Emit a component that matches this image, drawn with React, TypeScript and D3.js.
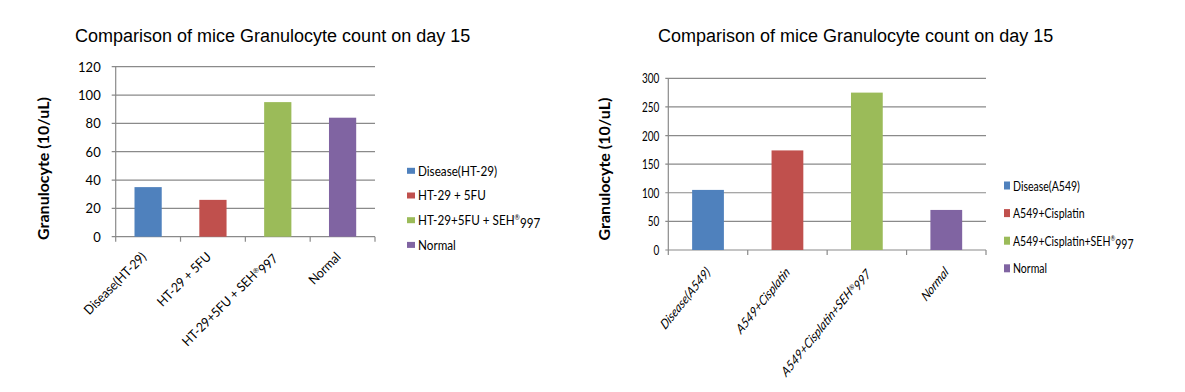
import React from "react";
import * as d3 from "d3";

const TITLE = "Comparison of mice Granulocyte count on day 15";
const Y_TITLE = "Granulocyte (10/uL)";
const COLORS = ["#4f81bd", "#c0504d", "#9bbb59", "#8064a2"];

const leftCategories = ["Disease(HT-29)", "HT-29 + 5FU", "HT-29+5FU + SEH®997", "Normal"];
const leftValues = [35, 26, 95, 84];
const leftTicks = [0, 20, 40, 60, 80, 100, 120];

const rightCategories = ["Disease(A549)", "A549+Cisplatin", "A549+Cisplatin+SEH®997", "Normal"];
const rightValues = [105, 174, 275, 70];
const rightTicks = [0, 50, 100, 150, 200, 250, 300];

const GRID = "#8a8a8a";

function label(text: string) {
  const parts = text.split("®");
  if (parts.length === 1) return text;
  return [
    <tspan key="a">{parts[0]}</tspan>,
    <tspan key="b" fontSize="0.55em" dy="-0.45em">®</tspan>,
    <tspan key="c" dy="0.45em">{parts[1]}</tspan>,
  ];
}

type ChartProps = {
  categories: string[];
  values: number[];
  ticks: number[];
  xRange: [number, number];
  yRange: [number, number];
  titleX: number;
  yTitleX: number;
  yTitleY: number;
  tickLen: number;
  tickGap: number;
  squeeze: number;
  labelSqueeze: number;
  legendSqueeze: number;
  tickFont: number;
  labelFont: number;
  labelItalic: boolean;
  labelDx: number;
  labelDy: number;
  legendX: number;
  legendY0: number;
  legendStep: number;
  legendSq: [number, number];
  legendFont: number;
  barRatio: number;
};

function Chart(p: ChartProps) {
  const x = d3
    .scaleBand<string>()
    .domain(p.categories)
    .range(p.xRange)
    .paddingInner(1 - p.barRatio)
    .paddingOuter((1 - p.barRatio) / 2);
  const y = d3
    .scaleLinear()
    .domain([0, p.ticks[p.ticks.length - 1]])
    .range(p.yRange);
  const step = x.step();
  const y0 = y(0);
  const font = "Lato, 'Open Sans', sans-serif";
  const bounds = p.categories.map((_, i) => p.xRange[0] + i * step).concat([p.xRange[1]]);
  return (
    <g>
      <text x={p.titleX} y={42} fontFamily="'Liberation Sans', Arial, sans-serif" fontSize={18} fill="#000">
        {TITLE}
      </text>
      <text
        transform={`translate(${p.yTitleX},${p.yTitleY}) rotate(-90)`}
        textAnchor="middle"
        fontFamily={font}
        fontWeight="bold"
        fontSize={16}
        fill="#000"
      >
        {Y_TITLE}
      </text>
      {p.ticks.map((t) => (
        <g key={t}>
          <line x1={p.xRange[0] - p.tickLen} x2={p.xRange[1]} y1={y(t)} y2={y(t)} stroke={GRID} strokeWidth={1.2} />
          <text
            transform={`translate(${p.xRange[0] - p.tickGap},${y(t)}) scale(${p.squeeze},1)`}
            textAnchor="end"
            dominantBaseline="central"
            fontFamily={font}
            fontSize={p.tickFont}
            fill="#000"
          >
            {t}
          </text>
        </g>
      ))}
      <line x1={p.xRange[0]} x2={p.xRange[0]} y1={y(p.ticks[p.ticks.length - 1])} y2={y0} stroke={GRID} strokeWidth={1.2} />
      {bounds.map((b, i) => (
        <line key={i} x1={b} x2={b} y1={y0} y2={y0 + 5} stroke={GRID} strokeWidth={1.2} />
      ))}
      {p.categories.map((c, i) => (
        <rect
          key={c}
          x={x(c)}
          y={y(p.values[i])}
          width={x.bandwidth()}
          height={y0 - y(p.values[i])}
          fill={COLORS[i]}
        />
      ))}
      {p.categories.map((c) => {
        const cx = (x(c) as number) + x.bandwidth() / 2;
        return (
          <text
            key={c}
            transform={`translate(${cx + p.labelDx},${y0 + p.labelDy}) scale(${p.squeeze},1) rotate(-45) scale(${p.labelSqueeze},1)`}
            textAnchor="end"
            fontFamily={font}
            fontStyle={p.labelItalic ? "italic" : "normal"}
            fontSize={p.labelFont}
            fill="#000"
          >
            {label(c)}
          </text>
        );
      })}
      {p.categories.map((c, i) => {
        const cy = p.legendY0 + i * p.legendStep;
        return (
          <g key={c}>
            <rect
              x={p.legendX}
              y={cy - p.legendSq[1] / 2}
              width={p.legendSq[0]}
              height={p.legendSq[1]}
              fill={COLORS[i]}
            />
            <text
              transform={`translate(${p.legendX + p.legendSq[0] + 3},${cy}) scale(${p.legendSqueeze},1)`}
              dominantBaseline="central"
              fontFamily={font}
              fontSize={p.legendFont}
              fill="#000"
            >
              {label(c)}
            </text>
          </g>
        );
      })}
    </g>
  );
}

export default function App() {
  return (
    <svg
      width={1185}
      height={392}
      style={{ position: "absolute", left: 0, top: 0, background: "#fff" }}
    >
      <rect width={1185} height={392} fill="#fff" />
      <Chart
        categories={leftCategories}
        values={leftValues}
        ticks={leftTicks}
        xRange={[115.7, 375]}
        yRange={[236.7, 66.7]}
        titleX={75}
        yTitleX={49}
        yTitleY={168.5}
        tickLen={4}
        tickGap={15}
        squeeze={1}
        labelSqueeze={0.93}
        legendSqueeze={0.9}
        tickFont={13}
        labelFont={13}
        labelItalic={false}
        labelDx={-1}
        labelDy={21}
        legendX={407}
        legendY0={170.8}
        legendStep={24.7}
        legendSq={[8, 6]}
        legendFont={13}
        barRatio={0.42}
      />
      <Chart
        categories={rightCategories}
        values={rightValues}
        ticks={rightTicks}
        xRange={[668.3, 986]}
        yRange={[250, 78.3]}
        titleX={658}
        yTitleX={610}
        yTitleY={169}
        tickLen={3}
        tickGap={9}
        squeeze={0.8}
        labelSqueeze={0.95}
        legendSqueeze={0.78}
        tickFont={12.5}
        labelFont={14}
        labelItalic={true}
        labelDx={3}
        labelDy={23}
        legendX={1004}
        legendY0={185.5}
        legendStep={27.6}
        legendSq={[6, 8]}
        legendFont={13.5}
        barRatio={0.4}
      />
    </svg>
  );
}
